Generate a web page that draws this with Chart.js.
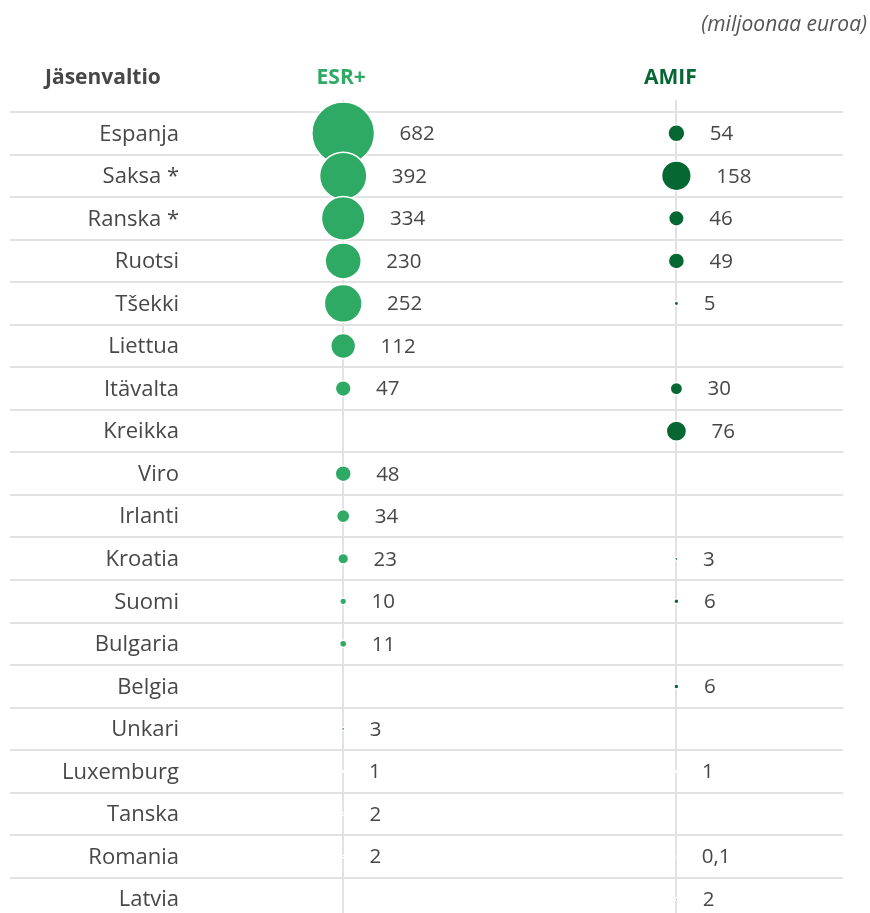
<!DOCTYPE html>
<html>
<head>
<meta charset="utf-8">
<script src="https://cdn.jsdelivr.net/npm/chart.js@4.4.1/dist/chart.umd.min.js"></script>
<style>
  html, body { margin: 0; padding: 0; background: #ffffff; overflow: hidden; }
  #wrap { position: relative; width: 870px; height: 913px; }
</style>
</head>
<body>
<div id="wrap"><canvas id="c" width="870" height="913"></canvas></div>
<script>
const countries = ["Espanja","Saksa *","Ranska *","Ruotsi","Tšekki","Liettua","Itävalta","Kreikka","Viro","Irlanti","Kroatia","Suomi","Bulgaria","Belgia","Unkari","Luxemburg","Tanska","Romania","Latvia"];
const esrValues  = [682, 392, 334, 230, 252, 112, 47, null, 48, 34, 23, 10, 11, null, 3, 1, 2, 2, null];
const amifValues = [54, 158, 46, 49, 5, null, 30, 76, null, null, 3, 6, null, 6, null, 1, null, 0.1, 2];
const seriesNames = ["ESR+", "AMIF"];
const headerLabel = "Jäsenvaltio";
const unitLabel = "(miljoonaa euroa)";

const ESR_COLOR = "#2eaa64";
const AMIF_COLOR = "#076733";
const TEXT_COLOR = "#474747";
const GRID_COLOR = "#e2e2e2";
const K = 1.22;

function toPoints(values, col) {
  const pts = [];
  values.forEach((v, i) => { if (v !== null) pts.push({ x: col, y: i, v: v }); });
  return pts;
}
function fmt(v) { return String(v).replace('.', ','); }
function radiusFor(v) { return Math.max(K * Math.sqrt(v) - 0.5, 0.4); }
function zeroFit(s) {
  if (s.isHorizontal()) s.height = 0; else s.width = 0;
  s.paddingLeft = 0; s.paddingRight = 0; s.paddingTop = 0; s.paddingBottom = 0;
}

const labelPlugin = {
  id: 'labels',
  afterDatasetsDraw(chart) {
    const ctx = chart.ctx;
    const xs = chart.scales.x, ys = chart.scales.y;
    ctx.save();
    // country names
    ctx.fillStyle = TEXT_COLOR;
    ctx.font = '22px "Open Sans"';
    ctx.textAlign = 'right';
    ctx.textBaseline = 'middle';
    countries.forEach((c, i) => ctx.fillText(c, 179, ys.getPixelForValue(i) + 1));
    // value labels
    ctx.font = '20.5px "Open Sans"';
    ctx.textAlign = 'left';
    chart.data.datasets.forEach((ds) => {
      ds.data.forEach((p) => {
        const cx = xs.getPixelForValue(p.x);
        const cy = ys.getPixelForValue(p.y);
        ctx.fillText(fmt(p.v), cx + radiusFor(p.v) + 25, cy + 1);
      });
    });
    // headers
    ctx.font = 'bold 21px "Open Sans"';
    ctx.textAlign = 'left';
    ctx.fillStyle = TEXT_COLOR;
    ctx.fillText(headerLabel, 45, 78);
    ctx.textAlign = 'center';
    ctx.fillStyle = ESR_COLOR;
    ctx.fillText(seriesNames[0], xs.getPixelForValue(0) - 2, 78);
    ctx.fillStyle = AMIF_COLOR;
    ctx.fillText(seriesNames[1], xs.getPixelForValue(1) - 6, 78);
    // unit
    ctx.font = 'italic 21px "Open Sans"';
    ctx.fillStyle = '#555555';
    ctx.textAlign = 'right';
    ctx.fillText(unitLabel, 867, 25);
    ctx.restore();
  }
};

new Chart(document.getElementById('c'), {
  type: 'bubble',
  data: {
    datasets: [
      {
        label: seriesNames[0],
        data: toPoints(esrValues, 0),
        backgroundColor: ESR_COLOR,
        borderColor: '#ffffff',
        borderWidth: 1.5,
        radius: (ctx) => radiusFor(ctx.raw.v),
        hoverRadius: 0
      },
      {
        label: seriesNames[1],
        data: toPoints(amifValues, 1),
        backgroundColor: AMIF_COLOR,
        borderColor: '#ffffff',
        borderWidth: 1.5,
        radius: (ctx) => radiusFor(ctx.raw.v),
        hoverRadius: 0
      }
    ]
  },
  options: {
    responsive: false,
    animation: false,
    layout: { autoPadding: false, padding: { left: 10, right: 27, top: 100, bottom: 0 } },
    plugins: { legend: { display: false }, tooltip: { enabled: false }, title: { display: false } },
    scales: {
      x: {
        type: 'linear',
        min: -1,
        max: 1.5,
        afterBuildTicks: (s) => { s.ticks = [{ value: 0 }, { value: 1 }]; },
        afterFit: zeroFit,
        grid: { color: GRID_COLOR, lineWidth: 2, drawTicks: false },
        border: { display: false },
        ticks: { display: false }
      },
      y: {
        type: 'linear',
        reverse: true,
        min: -0.782,
        max: 18.325,
        afterBuildTicks: (s) => { const t = []; for (let i = 0; i < countries.length; i++) t.push({ value: i - 0.5 }); s.ticks = t; },
        afterFit: zeroFit,
        grid: { color: GRID_COLOR, lineWidth: 2, drawTicks: false },
        border: { display: false },
        ticks: { display: false }
      }
    }
  },
  plugins: [labelPlugin]
});
</script>
</body>
</html>
